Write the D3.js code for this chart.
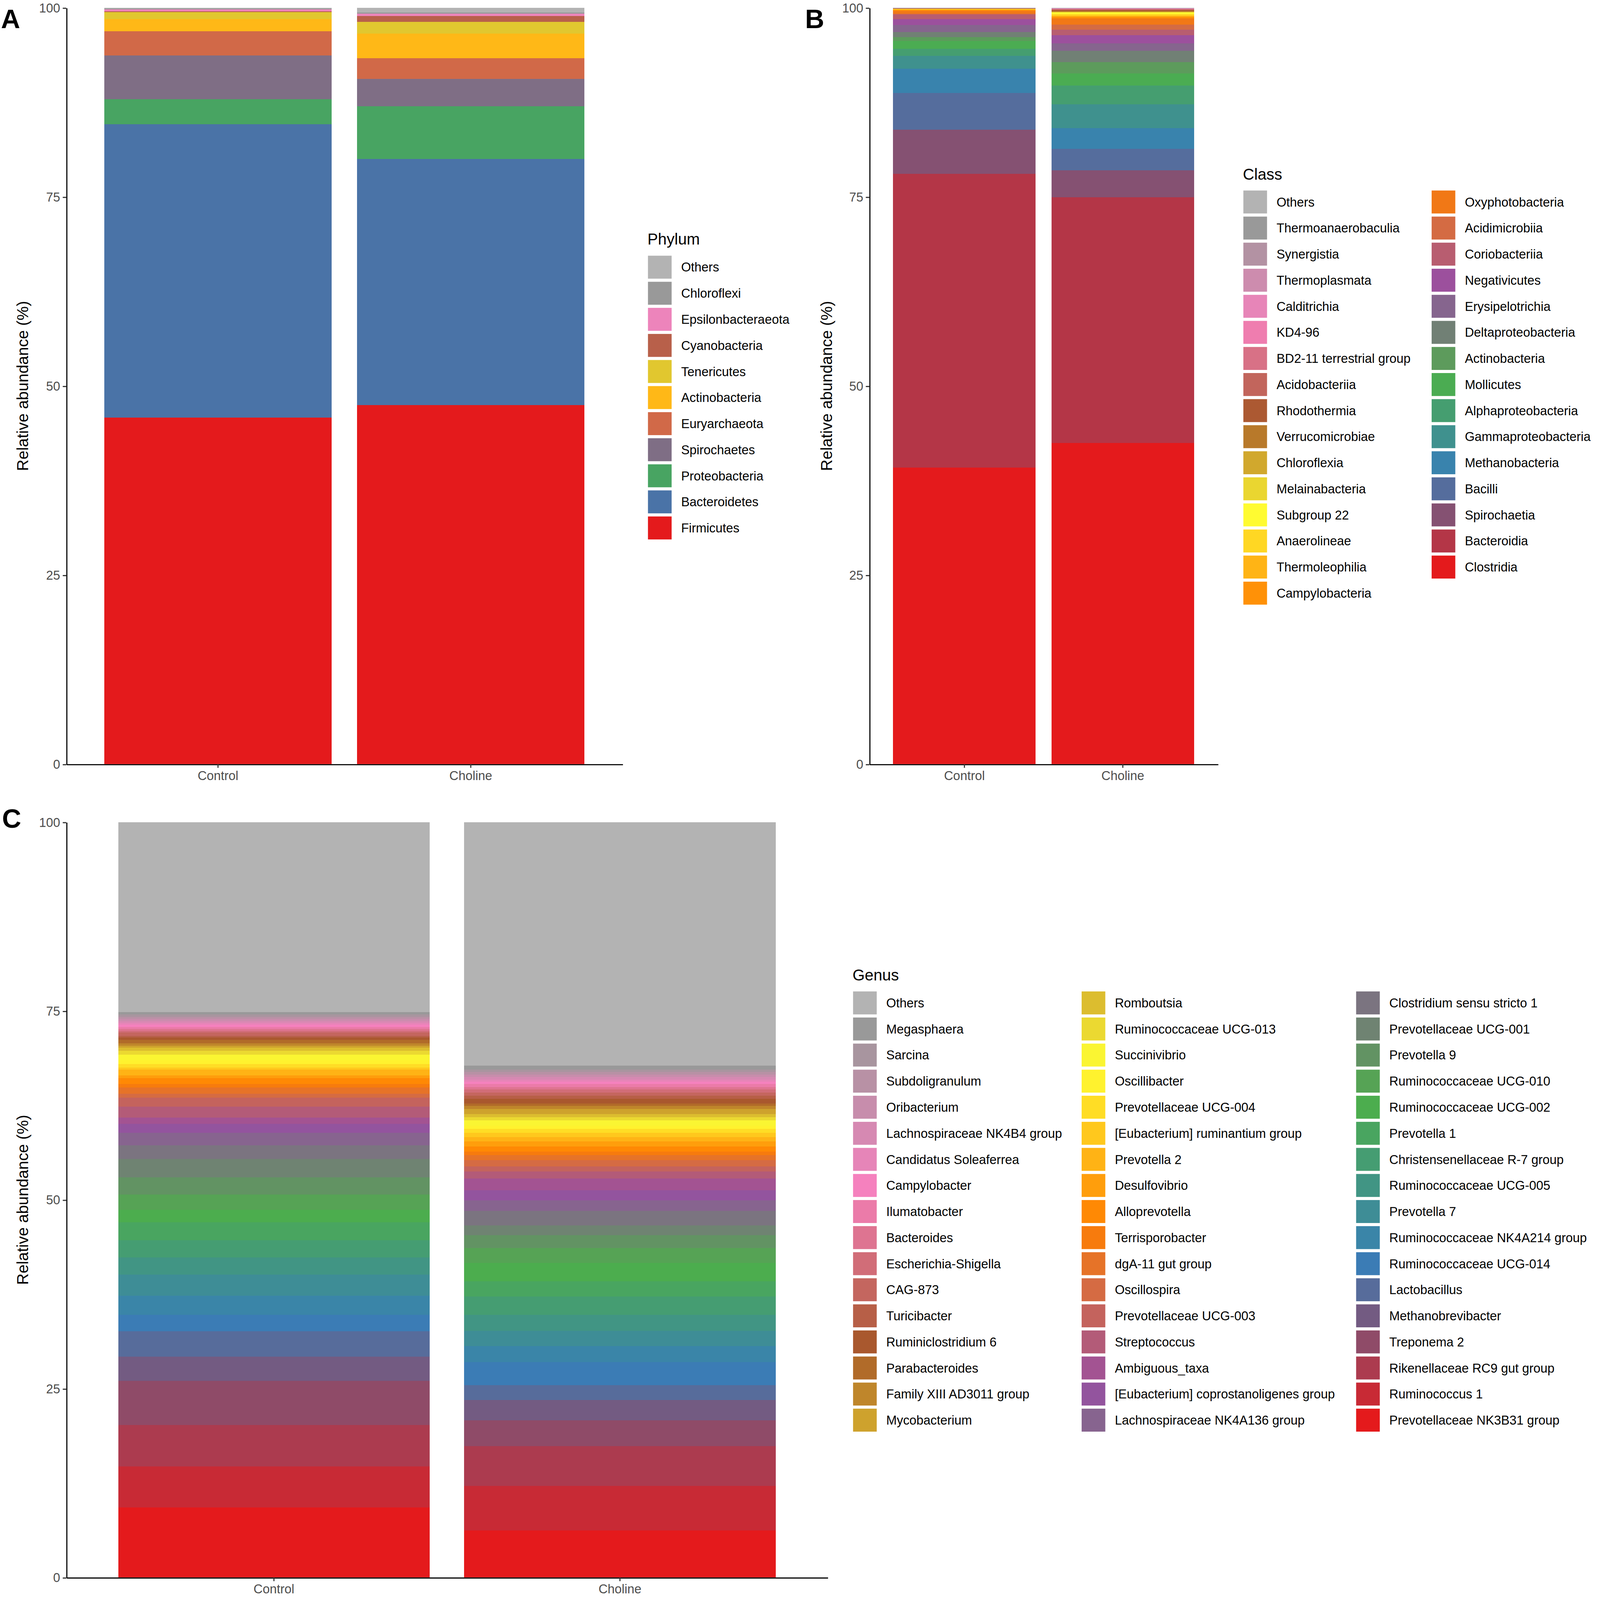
<!DOCTYPE html>
<html>
<head>
<meta charset="utf-8">
<script src="https://cdn.jsdelivr.net/npm/d3@7"></script>
<style>
  html, body { margin: 0; padding: 0; background: #fff; overflow: hidden; }
  svg { display: block; }
</style>
</head>
<body>
<div id="chart"></div>
<script>
// ---- data (bottom of the stack first, "Others" last) ----
const samples = ["Control", "Choline"];
const yTicks = [0, 25, 50, 75, 100];

const phylumNames = ["Firmicutes", "Bacteroidetes", "Proteobacteria", "Spirochaetes", "Euryarchaeota",
  "Actinobacteria", "Tenericutes", "Cyanobacteria", "Epsilonbacteraeota", "Chloroflexi", "Others"];
const phylumControl = [45.8, 38.8, 3.3, 5.8, 3.2, 1.6, 0.95, 0.08, 0.28, 0.07, 0.12];
const phylumCholine = [47.5, 32.5, 7.0, 3.6, 2.73, 3.23, 1.57, 0.79, 0.32, 0.13, 0.63];

const classNames = ["Clostridia", "Bacteroidia", "Spirochaetia", "Bacilli", "Methanobacteria",
  "Gammaproteobacteria", "Alphaproteobacteria", "Mollicutes", "Actinobacteria", "Deltaproteobacteria",
  "Erysipelotrichia", "Negativicutes", "Coriobacteriia", "Acidimicrobiia", "Oxyphotobacteria",
  "Campylobacteria", "Thermoleophilia", "Anaerolineae", "Subgroup 22", "Melainabacteria",
  "Chloroflexia", "Verrucomicrobiae", "Rhodothermia", "Acidobacteriia", "BD2-11 terrestrial group",
  "KD4-96", "Calditrichia", "Thermoplasmata", "Synergistia", "Thermoanaerobaculia", "Others"];
const classControl = [39.2, 38.85, 5.81, 4.9, 3.19, 1.68, 0.92, 1.03, 0.56, 0.64,
  0.92, 0.8, 0.62, 0.08, 0.36, 0.17, 0.04, 0.03, 0.02, 0.02,
  0.02, 0.02, 0.02, 0.01, 0.01, 0.01, 0.01, 0.01, 0.01, 0.01, 0.03];
const classCholine = [42.47, 32.49, 3.54, 2.83, 2.74, 3.19, 2.47, 1.6, 1.5, 1.47,
  1.01, 1.06, 0.71, 0.71, 0.79, 0.22, 0.17, 0.18, 0.23, 0.05,
  0.07, 0.07, 0.11, 0.11, 0.04, 0.03, 0.03, 0.03, 0.02, 0.02, 0.04];

const genusNames = ["Prevotellaceae NK3B31 group", "Ruminococcus 1", "Rikenellaceae RC9 gut group",
  "Treponema 2", "Methanobrevibacter", "Lactobacillus", "Ruminococcaceae UCG-014",
  "Ruminococcaceae NK4A214 group", "Prevotella 7", "Ruminococcaceae UCG-005",
  "Christensenellaceae R-7 group", "Prevotella 1", "Ruminococcaceae UCG-002", "Ruminococcaceae UCG-010",
  "Prevotella 9", "Prevotellaceae UCG-001", "Clostridium sensu stricto 1", "Lachnospiraceae NK4A136 group",
  "[Eubacterium] coprostanoligenes group", "Ambiguous_taxa", "Streptococcus", "Prevotellaceae UCG-003",
  "Oscillospira", "dgA-11 gut group", "Terrisporobacter", "Alloprevotella", "Desulfovibrio",
  "Prevotella 2", "[Eubacterium] ruminantium group", "Prevotellaceae UCG-004", "Oscillibacter",
  "Succinivibrio", "Ruminococcaceae UCG-013", "Romboutsia", "Mycobacterium", "Family XIII AD3011 group",
  "Parabacteroides", "Ruminiclostridium 6", "Turicibacter", "CAG-873", "Escherichia-Shigella",
  "Bacteroides", "Ilumatobacter", "Campylobacter", "Candidatus Soleaferrea",
  "Lachnospiraceae NK4B4 group", "Oribacterium", "Subdoligranulum", "Sarcina", "Megasphaera", "Others"];
const genusControl = [9.27, 5.44, 5.49, 5.82, 3.22, 3.38, 2.16, 2.52, 2.78, 2.32,
  2.23, 2.41, 1.65, 1.99, 2.32, 2.40, 1.83, 1.65, 1.16, 0.83,
  1.49, 1.16, 0.50, 0.83, 0.50, 0.75, 0.40, 0.75, 0.25, 0.50,
  0.49, 0.75, 0.49, 0.42, 0.25, 0.33, 0.44, 0.33, 0.22, 0.42,
  0.24, 0.25, 0.25, 0.33, 0.25, 0.25, 0.25, 0.25, 0.33, 0.30, 25.16];
const genusCholine = [6.25, 5.87, 5.27, 3.40, 2.70, 2.00, 3.05, 2.11, 1.99, 2.11,
  2.45, 2.00, 2.43, 1.97, 1.70, 1.33, 1.90, 1.40, 1.33, 1.57,
  0.91, 0.67, 0.83, 0.66, 0.50, 0.66, 0.66, 0.58, 0.58, 0.50,
  0.41, 0.75, 0.41, 0.42, 0.66, 0.41, 0.33, 0.58, 0.42, 0.41,
  0.42, 0.33, 0.41, 0.33, 0.25, 0.33, 0.33, 0.34, 0.33, 0.54, 32.21];

const set1 = ["#E41A1C", "#377EB8", "#4DAF4A", "#984EA3", "#FF7F00", "#FFFF33", "#A65628", "#F781BF", "#999999"];
const othersColor = "#B3B3B3";

// ---- layout (drawn in a 1568-wide frame, stretched over the whole window) ----
const W = 4317, H = 4257;
const VW = 1568, VH = VW * H / W;
const fontFamily = "'Liberation Sans', Arial, Helvetica, sans-serif";

const svg = d3.select("#chart").append("svg")
  .attr("viewBox", [0, 0, VW, VH])
  .attr("preserveAspectRatio", "none")
  .style("width", "100vw")
  .style("height", "100vh")
  .style("background", "#fff")
  .style("font-family", fontFamily);

function rampColors(n) {
  const ramp = d3.piecewise(d3.interpolateRgb, set1);
  return d3.range(n).map(i => ramp(n === 1 ? 0 : i / (n - 1)));
}

function drawPanel(p) {
  const g = svg.append("g");
  const taxa = p.names;
  const colors = rampColors(taxa.length - 1).concat([othersColor]);
  const color = d3.scaleOrdinal().domain(taxa).range(colors);

  const rows = samples.map((s, si) => {
    const row = { sample: s };
    taxa.forEach((t, ti) => { row[t] = p.values[si][ti]; });
    return row;
  });
  const series = d3.stack().keys(taxa)(rows);

  const x = d3.scaleBand().domain(samples).range([p.x0, p.x1])
    .paddingInner(0.1).paddingOuter(0.15);
  const y = d3.scaleLinear().domain([0, 100]).range([p.yBottom, p.yTop]);

  g.append("g")
    .selectAll("g")
    .data(series)
    .join("g")
    .attr("fill", d => color(d.key))
    .selectAll("rect")
    .data(d => d)
    .join("rect")
    .attr("x", d => x(d.data.sample))
    .attr("width", x.bandwidth())
    .attr("y", d => y(d[1]))
    .attr("height", d => Math.max(0, y(d[0]) - y(d[1])))
    .attr("shape-rendering", "crispEdges");

  // axes
  const yAxis = g.append("g")
    .attr("transform", `translate(${p.x0},0)`)
    .call(d3.axisLeft(y).tickValues(yTicks).tickSize(3.5).tickSizeOuter(0).tickPadding(2.5));
  const xAxis = g.append("g")
    .attr("transform", `translate(0,${p.yBottom})`)
    .call(d3.axisBottom(x).tickSize(3.5).tickSizeOuter(0).tickPadding(3));
  [yAxis, xAxis].forEach(a => {
    a.attr("font-family", fontFamily).attr("font-size", 12.4);
    a.select(".domain").attr("stroke", "#000").attr("stroke-width", 1.1);
    a.selectAll(".tick line").attr("stroke", "#333").attr("stroke-width", 1.1);
    a.selectAll(".tick text").attr("fill", "#4D4D4D");
  });

  g.append("text")
    .attr("transform", `translate(${p.titleX},${(p.yTop + p.yBottom) / 2}) rotate(-90)`)
    .attr("text-anchor", "middle")
    .attr("dy", "0.35em")
    .attr("font-size", 15.4)
    .attr("fill", "#000")
    .text("Relative abundance (%)");

  g.append("text")
    .attr("x", p.letterX)
    .attr("y", p.letterY)
    .attr("font-size", 26)
    .attr("font-weight", "bold")
    .attr("fill", "#000")
    .text(p.letter);

  // legend, filled column by column, "Others" first
  const lg = g.append("g");
  lg.append("text")
    .attr("x", p.legendX)
    .attr("y", p.legendTitleY)
    .attr("font-size", 15.4)
    .attr("fill", "#000")
    .text(p.legendTitle);

  const legendItems = taxa.slice().reverse();
  const perCol = Math.ceil(legendItems.length / p.colOffsets.length);
  const step = 25.2;
  const row0 = p.legendTitleY + 21.7;

  const item = lg.selectAll("g.item")
    .data(legendItems)
    .join("g")
    .attr("class", "item")
    .attr("transform", (d, i) => {
      const c = Math.floor(i / perCol), r = i % perCol;
      return `translate(${p.legendX + p.colOffsets[c]},${row0 + r * step})`;
    });
  item.append("rect")
    .attr("x", 0.5)
    .attr("y", -11.1)
    .attr("width", 23.2)
    .attr("height", 22.2)
    .attr("fill", d => color(d));
  item.append("text")
    .attr("x", 33)
    .attr("dy", "0.35em")
    .attr("font-size", 12.4)
    .attr("fill", "#000")
    .text(d => d);
}

drawPanel({
  letter: "A", letterX: 1, letterY: 27,
  names: phylumNames, values: [phylumControl, phylumCholine],
  x0: 65, x1: 610, yTop: 7.5, yBottom: 738.5, titleX: 22,
  legendTitle: "Phylum", legendX: 634.5, legendTitleY: 236.5, colOffsets: [0]
});

drawPanel({
  letter: "B", letterX: 789, letterY: 27,
  names: classNames, values: [classControl, classCholine],
  x0: 852, x1: 1193.5, yTop: 7.5, yBottom: 738.5, titleX: 810,
  legendTitle: "Class", legendX: 1218, legendTitleY: 173.5, colOffsets: [0, 184.5]
});

drawPanel({
  letter: "C", letterX: 2, letterY: 800,
  names: genusNames, values: [genusControl, genusCholine],
  x0: 65, x1: 811, yTop: 794.5, yBottom: 1524.5, titleX: 22,
  legendTitle: "Genus", legendX: 835.5, legendTitleY: 947.5, colOffsets: [0, 224, 493]
});
</script>
</body>
</html>
